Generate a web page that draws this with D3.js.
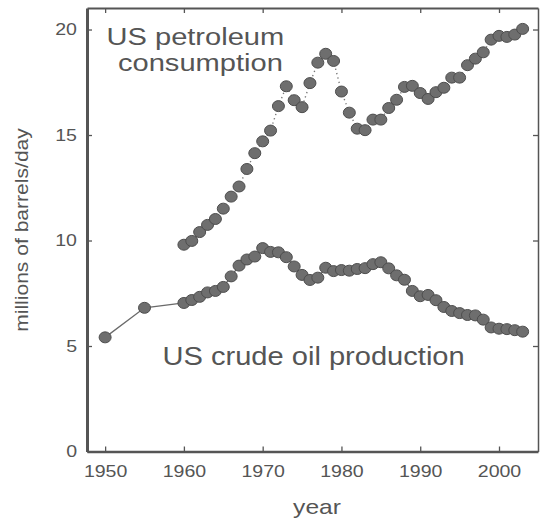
<!DOCTYPE html>
<html>
<head>
<meta charset="utf-8">
<script src="https://cdn.jsdelivr.net/npm/d3@7"></script>
<style>
  html, body { margin: 0; padding: 0; background: #fff; }
  svg { display: block; }
  text { font-family: "Liberation Sans", Arial, Helvetica, sans-serif; fill: #555; }
</style>
</head>
<body>
<svg id="chart" width="540" height="521"></svg>
<script>
// ---- data ----
const consumptionYears = [1960,1961,1962,1963,1964,1965,1966,1967,1968,1969,1970,1971,1972,1973,1974,1975,1976,1977,1978,1979,1980,1981,1982,1983,1984,1985,1986,1987,1988,1989,1990,1991,1992,1993,1994,1995,1996,1997,1998,1999,2000,2001,2002,2003];
const consumptionValues = [9.80,9.98,10.40,10.74,11.02,11.51,12.08,12.56,13.39,14.14,14.70,15.21,16.37,17.31,16.65,16.32,17.46,18.43,18.85,18.51,17.06,16.06,15.30,15.23,15.73,15.73,16.28,16.67,17.28,17.33,16.99,16.71,17.03,17.24,17.72,17.72,18.31,18.62,18.92,19.52,19.70,19.65,19.76,20.03];
const productionYears = [1950,1955,1960,1961,1962,1963,1964,1965,1966,1967,1968,1969,1970,1971,1972,1973,1974,1975,1976,1977,1978,1979,1980,1981,1982,1983,1984,1985,1986,1987,1988,1989,1990,1991,1992,1993,1994,1995,1996,1997,1998,1999,2000,2001,2002,2003];
const productionValues = [5.41,6.81,7.04,7.18,7.33,7.54,7.61,7.80,8.30,8.81,9.10,9.24,9.64,9.46,9.44,9.21,8.77,8.37,8.13,8.24,8.71,8.55,8.60,8.57,8.65,8.69,8.88,8.97,8.68,8.35,8.14,7.61,7.36,7.42,7.17,6.85,6.66,6.56,6.47,6.45,6.25,5.88,5.82,5.80,5.75,5.68];
const xTicks = [1950,1960,1970,1980,1990,2000];
const yTicks = [0,5,10,15,20];
const xLabel = "year";
const yLabel = "millions of barrels/day";
const consumptionLabel = ["US petroleum", "consumption"];
const productionLabel = "US crude oil production";

// ---- layout ----
const plotLeft = 87, plotRight = 538, plotTop = 8, plotBottom = 451.5;
const ink = "#555";
const svg = d3.select("#chart");

const x = d3.scaleLinear().domain([1947.7, 2004.95]).range([plotLeft, plotRight]);
const y = d3.scaleLinear().domain([0, 21.02]).range([plotBottom, plotTop]);

// stretch helper: wide-looking type
function stretch(sel, factor) {
  sel.each(function() {
    const w = this.getComputedTextLength();
    d3.select(this).attr("textLength", w * factor).attr("lengthAdjust", "spacingAndGlyphs");
  });
}

// ---- axes ----
const gLeft = svg.append("g").attr("transform", `translate(${plotLeft},0)`)
  .call(d3.axisLeft(y).tickValues(yTicks).tickSize(-5).tickSizeOuter(0).tickPadding(10));
const gBottom = svg.append("g").attr("transform", `translate(0,${plotBottom})`)
  .call(d3.axisBottom(x).tickValues(xTicks).tickFormat(d3.format("d")).tickSize(-5).tickSizeOuter(0).tickPadding(13.5));
const gTop = svg.append("g").attr("transform", `translate(0,${plotTop})`)
  .call(d3.axisTop(x).tickValues(xTicks).tickFormat("").tickSize(-5).tickSizeOuter(0));
const gRight = svg.append("g").attr("transform", `translate(${plotRight},0)`)
  .call(d3.axisRight(y).tickValues(yTicks).tickFormat("").tickSize(-5).tickSizeOuter(0));

[gLeft, gBottom, gTop, gRight].forEach(g => {
  g.selectAll("path.domain").attr("stroke", ink);
  g.selectAll(".tick line").attr("stroke", ink).attr("stroke-width", 1.3);
  g.selectAll(".tick text").attr("fill", ink).style("font-size", "16.3px")
    .style("font-family", '"Liberation Sans", Arial, sans-serif');
});
gLeft.select("path.domain").attr("stroke-width", 3);
gBottom.select("path.domain").attr("stroke-width", 2.5);
gTop.select("path.domain").attr("stroke-width", 2);
gRight.select("path.domain").attr("stroke-width", 1.5);
stretch(gLeft.selectAll(".tick text"), 1.2);
stretch(gBottom.selectAll(".tick text"), 1.2);

// ---- axis titles ----
const yt = svg.append("text")
  .attr("transform", "translate(28,230) rotate(-90)")
  .attr("text-anchor", "middle")
  .style("font-size", "18px")
  .text(yLabel);
stretch(yt, 1.17);

const xt = svg.append("text")
  .attr("x", 317).attr("y", 513.5)
  .attr("text-anchor", "middle")
  .style("font-size", "21px")
  .text(xLabel);
stretch(xt, 1.17);

// ---- series ----
const cons = consumptionYears.map((yr, i) => ({year: yr, value: consumptionValues[i]}));
const prod = productionYears.map((yr, i) => ({year: yr, value: productionValues[i]}));

const line = d3.line().x(d => x(d.year)).y(d => y(d.value));

svg.append("path").datum(prod)
  .attr("d", line).attr("fill", "none")
  .attr("stroke", "#6a6a6a").attr("stroke-width", 1.3);

svg.append("path").datum(cons)
  .attr("d", line).attr("fill", "none")
  .attr("stroke", "#777").attr("stroke-width", 1.4)
  .attr("stroke-dasharray", "1.3,3.2");

function dots(data) {
  svg.append("g").selectAll("ellipse").data(data).join("ellipse")
    .attr("cx", d => x(d.year)).attr("cy", d => y(d.value))
    .attr("rx", 6).attr("ry", 5.5)
    .attr("fill", "#6e6e6e").attr("stroke", "#4e4e4e").attr("stroke-width", 1);
}
dots(prod);
dots(cons);

// ---- series labels ----
const c1 = svg.append("text").attr("x", 106.5).attr("y", 44.5)
  .style("font-size", "23.5px").text(consumptionLabel[0]);
const c2 = svg.append("text").attr("x", 118).attr("y", 71)
  .style("font-size", "23.5px").text(consumptionLabel[1]);
const p1 = svg.append("text").attr("x", 162.5).attr("y", 365)
  .style("font-size", "25.5px").text(productionLabel);
stretch(c1, 1.14 * 25.5 / 23.5);
stretch(c2, 1.14 * 25.5 / 23.5);
stretch(p1, 1.14);
</script>
</body>
</html>
